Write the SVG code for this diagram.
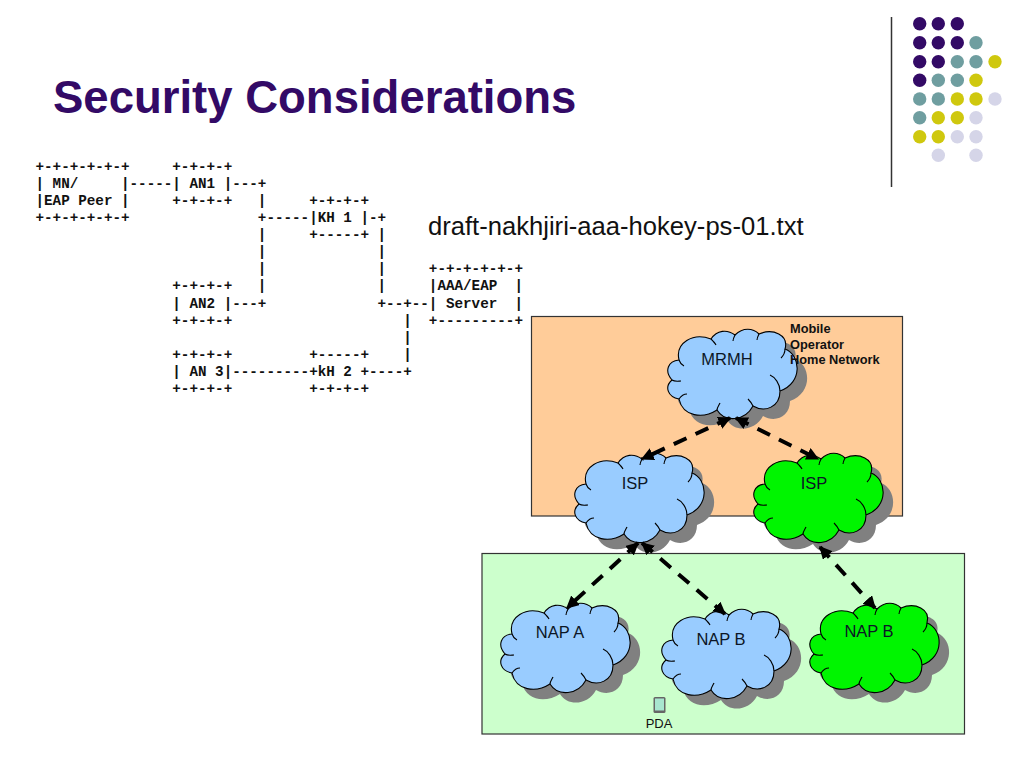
<svg xmlns="http://www.w3.org/2000/svg" xmlns:xlink="http://www.w3.org/1999/xlink" width="1024" height="768" viewBox="0 0 1024 768">
<style>
text{font-family:"Liberation Sans",Arial,sans-serif}
.asc{font-family:"Liberation Mono","Courier New",monospace;font-size:14.25px;font-weight:bold;fill:#111;white-space:pre}
.lbl{font-size:16.5px;fill:#0c1626;text-anchor:middle}
.p{fill:#330a66}.t{fill:#6f9ea0}.y{fill:#cfc80e}.l{fill:#d5d5e8}
.conn{fill:none;stroke:#000;stroke-width:4;stroke-dasharray:14 10;marker-start:url(#ah);marker-end:url(#ah)}
.outline{stroke:#000;stroke-width:1.1}
.crease{fill:none;stroke:#000;stroke-width:1.1}
.blue{fill:#99ccff}.green{fill:#00f500}
.shadow{fill:#808080}
</style>
<defs>
<marker id="ah" viewBox="0 0 10 10" refX="9" refY="5" markerWidth="3.2" markerHeight="3.2" orient="auto-start-reverse"><path d="M0 0L10 5L0 10z" fill="#000"/></marker>
<path id="cl" d="M12 31C8 14 26 3 44 10C50 1 60 0 68 6C76 -2 86 -1 92 5C106 -1 122 6 118 20C134 26 136 54 113 62C113 78 98 84 86 77C78 92 58 94 50 81C36 90 16 88 12 70C1 68 -3 58 5 51C-3 42 1 32 12 31z"/>
<g id="cr"><path class="crease" d="M12 31C13 34 15 36 17 37"/><path class="crease" d="M44 10C46 12 48 14 49 16"/><path class="crease" d="M68 6C67 8 66 10 66 12"/><path class="crease" d="M92 5C91 7 90 9 90 11"/><path class="crease" d="M118 20C118 24 116 27 114 29"/><path class="crease" d="M113 62C113 55 108 48 103 46"/><path class="crease" d="M86 77C85 75 83 72 81 70"/><path class="crease" d="M50 81C50 79 52 76 53 74"/><path class="crease" d="M12 70C14 67 17 65 20 65"/><path class="crease" d="M5 51C8 53 12 52 14 52"/></g>
</defs>
<rect width="1024" height="768" fill="#fff"/>
<g id="decoration">
<line x1="891.5" y1="17" x2="891.5" y2="187" stroke="#333" stroke-width="1.5"/>
<g><circle class="p" cx="919.7" cy="23.7" r="6.7"/><circle class="p" cx="938.3" cy="23.7" r="6.7"/><circle class="p" cx="957.3" cy="23.7" r="6.7"/>
<circle class="p" cx="919.7" cy="42.7" r="6.7"/><circle class="p" cx="938.3" cy="42.7" r="6.7"/><circle class="p" cx="957.3" cy="42.7" r="6.7"/><circle class="t" cx="976" cy="42.7" r="6.7"/>
<circle class="p" cx="919.7" cy="61.7" r="6.7"/><circle class="p" cx="938.3" cy="61.7" r="6.7"/><circle class="t" cx="957.3" cy="61.7" r="6.7"/><circle class="t" cx="976" cy="61.7" r="6.7"/><circle class="y" cx="995" cy="61.7" r="6.7"/>
<circle class="p" cx="919.7" cy="80.3" r="6.7"/><circle class="t" cx="938.3" cy="80.3" r="6.7"/><circle class="t" cx="957.3" cy="80.3" r="6.7"/><circle class="y" cx="976" cy="80.3" r="6.7"/>
<circle class="t" cx="919.7" cy="99" r="6.7"/><circle class="t" cx="938.3" cy="99" r="6.7"/><circle class="y" cx="957.3" cy="99" r="6.7"/><circle class="y" cx="976" cy="99" r="6.7"/><circle class="l" cx="995" cy="99" r="6.7"/>
<circle class="t" cx="919.7" cy="117.7" r="6.7"/><circle class="y" cx="938.3" cy="117.7" r="6.7"/><circle class="y" cx="957.3" cy="117.7" r="6.7"/><circle class="l" cx="976" cy="117.7" r="6.7"/>
<circle class="y" cx="919.7" cy="136.7" r="6.7"/><circle class="y" cx="938.3" cy="136.7" r="6.7"/><circle class="l" cx="957.3" cy="136.7" r="6.7"/><circle class="l" cx="976" cy="136.7" r="6.7"/>
<circle class="l" cx="938.3" cy="155.3" r="6.7"/><circle class="l" cx="976" cy="155.3" r="6.7"/></g>
</g>
<text id="title" x="53" y="113" font-size="45.5" font-weight="bold" fill="#330a66">Security Considerations</text>
<g id="ascii-art">
<text class="asc" x="35.5" y="171">+-+-+-+-+-+     +-+-+-+</text>
<text class="asc" x="35.5" y="188">| MN/     |-----| AN1 |---+</text>
<text class="asc" x="35.5" y="205">|EAP Peer |     +-+-+-+   |     +-+-+-+</text>
<text class="asc" x="35.5" y="222">+-+-+-+-+-+               +-----|KH 1 |-+</text>
<text class="asc" x="35.5" y="239">                          |     +-----+ |</text>
<text class="asc" x="35.5" y="256">                          |             |</text>
<text class="asc" x="35.5" y="273">                          |             |     +-+-+-+-+-+</text>
<text class="asc" x="35.5" y="290">                +-+-+-+   |             |     |AAA/EAP  |</text>
<text class="asc" x="35.5" y="308">                | AN2 |---+             +--+--| Server  |</text>
<text class="asc" x="35.5" y="325">                +-+-+-+                    |  +---------+</text>
<text class="asc" x="35.5" y="342">                                           |</text>
<text class="asc" x="35.5" y="359">                +-+-+-+         +-----+    |</text>
<text class="asc" x="35.5" y="376">                | AN 3|---------+kH 2 +----+</text>
<text class="asc" x="35.5" y="393">                +-+-+-+         +-+-+-+</text>
</g>
<text id="draft" x="428" y="235" font-size="25.6" fill="#111">draft-nakhjiri-aaa-hokey-ps-01.txt</text>
<rect id="home-network" x="531.5" y="316.5" width="371" height="199.5" fill="#ffcc99" stroke="#333" stroke-width="1.2"/>
<rect id="access-network" x="482" y="553.5" width="482.5" height="180.5" fill="#ccffcc" stroke="#333" stroke-width="1.2"/>
<g id="mrmh" transform="translate(667 329)"><use href="#cl" class="shadow" x="10" y="10"/><use href="#cl" class="blue outline"/><use href="#cr"/></g>
<g id="isp-a" transform="translate(574 453)"><use href="#cl" class="shadow" x="10" y="10"/><use href="#cl" class="blue outline"/><use href="#cr"/></g>
<g id="isp-b" transform="translate(753 453)"><use href="#cl" class="shadow" x="10" y="10"/><use href="#cl" class="green outline"/><use href="#cr"/></g>
<g id="nap-a" transform="translate(500 603)"><use href="#cl" class="shadow" x="10" y="10"/><use href="#cl" class="blue outline"/><use href="#cr"/></g>
<g id="nap-b" transform="translate(661 609)"><use href="#cl" class="shadow" x="10" y="10"/><use href="#cl" class="blue outline"/><use href="#cr"/></g>
<g id="nap-b2" transform="translate(809 603)"><use href="#cl" class="shadow" x="10" y="10"/><use href="#cl" class="green outline"/><use href="#cr"/></g>
<g id="connectors">
<line class="conn" x1="730" y1="418" x2="642" y2="459"/>
<line class="conn" x1="736" y1="418" x2="818" y2="459"/>
<line class="conn" x1="638" y1="543" x2="567" y2="608"/>
<line class="conn" x1="642" y1="543" x2="725" y2="614"/>
<line class="conn" x1="820" y1="547" x2="875" y2="608"/>
</g>
<g id="labels">
<text class="lbl" x="727" y="365">MRMH</text>
<text class="lbl" x="635" y="489">ISP</text>
<text class="lbl" x="814" y="489">ISP</text>
<text class="lbl" x="560" y="638">NAP A</text>
<text class="lbl" x="721" y="645">NAP B</text>
<text class="lbl" x="869" y="637">NAP B</text>
</g>
<g id="home-label" font-size="12.8" font-weight="bold" fill="#111">
<text x="790" y="333">Mobile</text><text x="790" y="349">Operator</text><text x="790" y="364">Home Network</text>
</g>
<g id="pda">
<rect x="653.5" y="697" width="12" height="16" rx="1.5" fill="#666"/>
<rect x="655" y="698.5" width="9" height="12" fill="#a8e6cf"/>
<text x="659" y="728" font-size="13" text-anchor="middle" fill="#111">PDA</text>
</g>
</svg>
